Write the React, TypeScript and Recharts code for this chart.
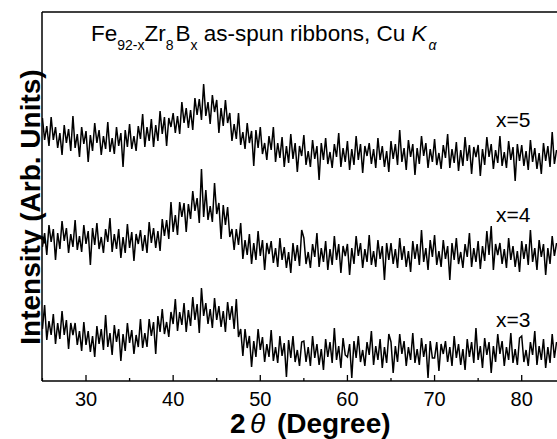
import React from "react";
import { ComposedChart, Line, XAxis, YAxis, ReferenceLine } from "recharts";

// 2θ angles (degrees)
const ANGLES = [
  25, 25.25, 25.5, 25.75, 26, 26.25, 26.5, 26.75, 27, 27.25, 27.5, 27.75, 28, 28.25, 28.5, 28.75, 29, 29.25, 29.5, 29.75,
  30, 30.25, 30.5, 30.75, 31, 31.25, 31.5, 31.75, 32, 32.25, 32.5, 32.75, 33, 33.25, 33.5, 33.75, 34, 34.25, 34.5, 34.75,
  35, 35.25, 35.5, 35.75, 36, 36.25, 36.5, 36.75, 37, 37.25, 37.5, 37.75, 38, 38.25, 38.5, 38.75, 39, 39.25, 39.5, 39.75,
  40, 40.25, 40.5, 40.75, 41, 41.25, 41.5, 41.75, 42, 42.25, 42.5, 42.75, 43, 43.25, 43.5, 43.75, 44, 44.25, 44.5, 44.75,
  45, 45.25, 45.5, 45.75, 46, 46.25, 46.5, 46.75, 47, 47.25, 47.5, 47.75, 48, 48.25, 48.5, 48.75, 49, 49.25, 49.5, 49.75,
  50, 50.25, 50.5, 50.75, 51, 51.25, 51.5, 51.75, 52, 52.25, 52.5, 52.75, 53, 53.25, 53.5, 53.75, 54, 54.25, 54.5, 54.75,
  55, 55.25, 55.5, 55.75, 56, 56.25, 56.5, 56.75, 57, 57.25, 57.5, 57.75, 58, 58.25, 58.5, 58.75, 59, 59.25, 59.5, 59.75,
  60, 60.25, 60.5, 60.75, 61, 61.25, 61.5, 61.75, 62, 62.25, 62.5, 62.75, 63, 63.25, 63.5, 63.75, 64, 64.25, 64.5, 64.75,
  65, 65.25, 65.5, 65.75, 66, 66.25, 66.5, 66.75, 67, 67.25, 67.5, 67.75, 68, 68.25, 68.5, 68.75, 69, 69.25, 69.5, 69.75,
  70, 70.25, 70.5, 70.75, 71, 71.25, 71.5, 71.75, 72, 72.25, 72.5, 72.75, 73, 73.25, 73.5, 73.75, 74, 74.25, 74.5, 74.75,
  75, 75.25, 75.5, 75.75, 76, 76.25, 76.5, 76.75, 77, 77.25, 77.5, 77.75, 78, 78.25, 78.5, 78.75, 79, 79.25, 79.5, 79.75,
  80, 80.25, 80.5, 80.75, 81, 81.25, 81.5, 81.75, 82, 82.25, 82.5, 82.75, 83, 83.25, 83.5, 83.75, 84,
];

// Intensity (arb. units, vertically offset) — x=5
const X5 = [
  263, 241, 255, 235, 264, 241, 254, 233, 248, 226, 256, 238, 252, 230, 265, 233, 247, 224, 254, 237,
  250, 219, 246, 230, 258, 238, 251, 226, 245, 232, 259, 229, 243, 227, 254, 235, 248, 214, 251, 234,
  257, 232, 245, 230, 255, 242, 267, 234, 254, 240, 262, 234, 256, 240, 270, 247, 264, 235, 263, 254,
  268, 248, 265, 247, 279, 258, 273, 253, 271, 251, 283, 266, 282, 261, 297, 265, 279, 257, 286, 269,
  281, 248, 273, 255, 281, 258, 268, 240, 257, 242, 268, 236, 249, 232, 258, 238, 250, 215, 251, 233,
  254, 227, 238, 221, 245, 231, 254, 219, 238, 223, 244, 214, 235, 218, 247, 222, 238, 209, 235, 225,
  246, 216, 230, 214, 241, 222, 235, 201, 238, 221, 243, 217, 229, 213, 237, 224, 248, 214, 233, 219,
  240, 211, 232, 216, 245, 221, 237, 208, 235, 225, 238, 217, 232, 213, 243, 221, 235, 214, 230, 209,
  240, 222, 237, 216, 251, 219, 233, 211, 241, 224, 237, 206, 233, 217, 245, 225, 238, 213, 232, 219,
  242, 216, 228, 212, 236, 223, 247, 213, 232, 218, 239, 210, 231, 215, 244, 220, 236, 207, 234, 224,
  236, 205, 232, 216, 244, 224, 237, 212, 231, 218, 245, 215, 229, 213, 240, 221, 234, 200, 237, 220,
  236, 215, 230, 211, 241, 219, 233, 212, 228, 207, 238, 220, 235, 214, 249, 217, 231,
];

// x=4
const X4 = [
  134, 148, 126, 156, 139, 152, 121, 148, 132, 160, 140, 153, 128, 147, 134, 161, 131, 145, 129, 156,
  137, 150, 116, 153, 136, 158, 132, 144, 128, 152, 139, 163, 129, 147, 132, 152, 123, 144, 128, 157,
  133, 149, 120, 147, 137, 151, 130, 146, 128, 159, 138, 153, 133, 150, 130, 162, 145, 161, 142, 179,
  149, 166, 146, 179, 164, 178, 149, 177, 162, 190, 170, 183, 158, 212, 164, 191, 161, 175, 159, 198,
  167, 178, 142, 176, 156, 174, 144, 152, 131, 152, 136, 158, 122, 141, 126, 147, 117, 138, 121, 150,
  125, 141, 111, 138, 127, 140, 118, 133, 114, 143, 121, 134, 113, 129, 108, 138, 120, 136, 115, 151,
  143, 117, 129, 113, 137, 124, 148, 114, 133, 119, 140, 111, 132, 116, 145, 121, 137, 108, 135, 125,
  137, 106, 133, 117, 145, 125, 138, 113, 132, 119, 146, 116, 130, 114, 141, 122, 135, 101, 138, 121,
  138, 117, 132, 113, 143, 121, 135, 114, 130, 109, 140, 122, 137, 116, 151, 119, 133, 111, 141, 124,
  146, 116, 130, 114, 141, 122, 135, 101, 138, 121, 143, 117, 129, 113, 137, 124, 148, 114, 133, 119,
  140, 112, 135, 120, 150, 126, 155, 111, 137, 126, 138, 117, 132, 113, 143, 121, 135, 114, 130, 109,
  140, 122, 137, 116, 151, 119, 133, 111, 141, 124, 137, 106, 133, 117, 145, 125, 138,
];

// x=3
const X3 = [
  52, 76, 41, 60, 46, 67, 37, 58, 42, 70, 46, 61, 32, 58, 46, 58, 36, 50, 30, 59,
  36, 50, 29, 45, 24, 55, 37, 52, 31, 66, 34, 48, 26, 56, 39, 52, 20, 47, 30, 58,
  38, 51, 27, 46, 34, 62, 33, 48, 34, 62, 45, 59, 27, 65, 49, 72, 47, 59, 44, 69,
  57, 82, 50, 69, 56, 78, 49, 71, 55, 84, 61, 77, 48, 93, 65, 78, 57, 72, 53, 83,
  61, 75, 54, 70, 49, 79, 61, 75, 52, 82, 44, 52, 25, 52, 33, 45, 14, 40, 24, 52,
  31, 44, 19, 37, 24, 51, 20, 34, 18, 45, 25, 38, 4, 41, 23, 45, 19, 31, 15, 39,
  40, 19, 34, 15, 45, 23, 37, 16, 32, 11, 42, 24, 39, 18, 53, 21, 35, 13, 43, 26,
  24, 37, 3, 40, 23, 45, 19, 31, 15, 39, 26, 50, 16, 35, 21, 42, 13, 34, 18, 47,
  39, 8, 35, 19, 47, 27, 40, 15, 34, 21, 48, 18, 32, 16, 43, 24, 37, 3, 40, 23,
  23, 39, 10, 37, 27, 40, 19, 34, 15, 45, 23, 37, 16, 32, 11, 42, 24, 39, 18, 53,
  21, 35, 13, 43, 26, 39, 8, 35, 19, 47, 27, 40, 15, 34, 21, 48, 18, 32, 16, 43,
  45, 19, 31, 15, 39, 26, 50, 16, 35, 21, 42, 13, 34, 18, 47, 23, 39,
];

const X_TICKS = [25, 30, 35, 40, 45, 50, 55, 60, 65, 70, 75, 80];
const X_DOMAIN: [number, number] = [24.95, 84.05];
const Y_DOMAIN: [number, number] = [0, 369];
const SERIES_LABELS = ["x=5", "x=4", "x=3"];

const rows = ANGLES.map((a, i) => ({ a, s5: X5[i], s4: X4[i], s3: X3[i] }));

const FONT = "'Liberation Sans', Arial, Helvetica, sans-serif";

const Tick = (props: any) => {
  const { x, y, payload } = props;
  const v = payload.value;
  const major = v % 10 === 0;
  return (
    <g>
      <line x1={x} x2={x} y1={y} y2={y - (major ? 6 : 3)} stroke="#000" strokeWidth={1.3} />
      {major && (
        <text x={x} y={y + 25} textAnchor="middle" fontFamily={FONT} fontSize={20} fill="#000">
          {v}
        </text>
      )}
    </g>
  );
};

export default function App() {
  return (
    <div style={{ position: "absolute", left: 0, top: 0, width: 557, height: 439, background: "#fff", overflow: "hidden" }}>
      <ComposedChart
        width={557}
        height={439}
        data={rows}
        margin={{ top: 12, right: 0, bottom: 0, left: 42 }}
      >
        <XAxis
          dataKey="a"
          type="number"
          domain={X_DOMAIN}
          ticks={X_TICKS}
          interval={0}
          height={58}
          tickSize={0}
          tickMargin={0}
          tick={<Tick />}
          tickLine={false}
          axisLine={{ stroke: "#000", strokeWidth: 1.5 }}
          allowDataOverflow
        />
        <YAxis type="number" domain={Y_DOMAIN} hide allowDataOverflow />
        <ReferenceLine x={X_DOMAIN[0]} stroke="#000" strokeWidth={1.5} />
        <ReferenceLine y={Y_DOMAIN[1]} stroke="#000" strokeWidth={1.5} />
        <Line type="linear" dataKey="s5" stroke="#000" strokeWidth={1.5} dot={false} isAnimationActive={false} />
        <Line type="linear" dataKey="s4" stroke="#000" strokeWidth={1.5} dot={false} isAnimationActive={false} />
        <Line type="linear" dataKey="s3" stroke="#000" strokeWidth={1.5} dot={false} isAnimationActive={false} />
      </ComposedChart>
      <svg width={557} height={439} style={{ position: "absolute", left: 0, top: 0, pointerEvents: "none" }}>
        <text x={91} y={41} fontFamily={FONT} fontSize={22.5} fill="#000">
          Fe
          <tspan fontSize={14} dy={9}>92-x</tspan>
          <tspan dy={-9}>Zr</tspan>
          <tspan fontSize={14} dy={9}>8</tspan>
          <tspan dy={-9} dx={2}>B</tspan>
          <tspan fontSize={14} dy={9}>x</tspan>
          <tspan dy={-9}> as-spun ribbons, Cu </tspan>
          <tspan fontStyle="italic">K</tspan>
          <tspan fontSize={14} fontStyle="italic" dy={9} dx={2}>α</tspan>
        </text>
        <text x={496} y={127} fontFamily={FONT} fontSize={21} fill="#000">{SERIES_LABELS[0]}</text>
        <text x={496} y={222} fontFamily={FONT} fontSize={21} fill="#000">{SERIES_LABELS[1]}</text>
        <text x={496} y={327} fontFamily={FONT} fontSize={21} fill="#000">{SERIES_LABELS[2]}</text>
        <text
          x={40}
          y={207}
          transform="rotate(-90 40 207)"
          textAnchor="middle"
          fontFamily={FONT}
          fontSize={28}
          fontWeight="bold"
          fill="#000"
        >
          Intensity (Arb. Units)
        </text>
        <text y={433} fontFamily={FONT} fontSize={28} fontWeight="bold" fill="#000">
          <tspan x={230}>2</tspan>
          <tspan x={250} fontStyle="italic" fontWeight="normal">θ</tspan>
          <tspan x={277}>(Degree)</tspan>
        </text>
      </svg>
    </div>
  );
}
